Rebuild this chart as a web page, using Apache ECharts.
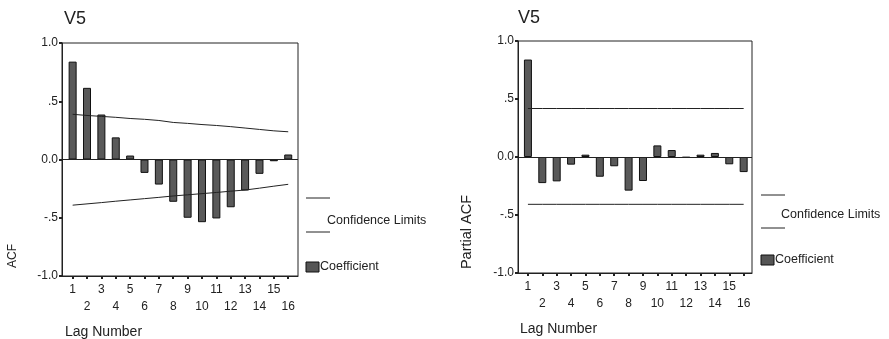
<!DOCTYPE html>
<html>
<head>
<meta charset="utf-8">
<script src="https://cdn.jsdelivr.net/npm/echarts@6/dist/echarts.min.js"></script>
<style>
  html, body { margin: 0; padding: 0; background: #fff; }
  #chart { width: 889px; height: 339px; }
</style>
</head>
<body>
<div id="chart"></div>
<script>
var lags = [1, 2, 3, 4, 5, 6, 7, 8, 9, 10, 11, 12, 13, 14, 15, 16];
var acf = [0.84, 0.615, 0.386, 0.19, 0.034, -0.115, -0.215, -0.363, -0.5, -0.538, -0.506, -0.41, -0.266, -0.123, -0.015, 0.043];
var acfUpper = [0.388, 0.378, 0.37, 0.362, 0.352, 0.345, 0.335, 0.318, 0.31, 0.3, 0.292, 0.282, 0.27, 0.258, 0.246, 0.238];
var acfLower = [-0.392, -0.381, -0.37, -0.358, -0.347, -0.336, -0.325, -0.313, -0.303, -0.293, -0.283, -0.272, -0.262, -0.246, -0.229, -0.213];
var pacf = [0.84, -0.225, -0.21, -0.066, 0.02, -0.17, -0.08, -0.29, -0.207, 0.1, 0.06, -0.005, 0.02, 0.035, -0.063, -0.13];
var pacfUpper = [0.418, 0.418, 0.418, 0.418, 0.418, 0.418, 0.418, 0.418, 0.418, 0.418, 0.418, 0.418, 0.418, 0.418, 0.418, 0.418];
var pacfLower = [-0.408, -0.408, -0.408, -0.408, -0.408, -0.408, -0.408, -0.408, -0.408, -0.408, -0.408, -0.408, -0.408, -0.408, -0.408, -0.408];
var yTickText = { '1': '1.0', '0.5': '.5', '0': '0.0', '-0.5': '-.5', '-1': '-1.0' };

var font = 'Liberation Sans';
var ink = '#222';

var pairs = function (ys) { return lags.map(function (l, i) { return [l, ys[i]]; }); };

var xAxis = function (idx, min, max) {
  return {
    type: 'value', gridIndex: idx, min: min, max: max,
    splitLine: { show: false },
    axisLine: { onZero: false, lineStyle: { color: ink } },
    axisTick: { customValues: lags, length: 3, lineStyle: { color: ink, width: 2 } },
    axisLabel: {
      customValues: lags, margin: 5, color: ink, fontFamily: font, fontSize: 12, lineHeight: 17,
      formatter: function (v) { return v % 2 ? String(v) : '\n' + v; }
    }
  };
};
var yAxis = function (idx) {
  return {
    type: 'value', gridIndex: idx, min: -1, max: 1, interval: 0.5,
    splitLine: { show: false },
    axisLine: { onZero: false, lineStyle: { color: ink } },
    axisTick: { length: 3, lineStyle: { color: ink, width: 2 } },
    axisLabel: {
      margin: 4, color: ink, fontFamily: font, fontSize: 12,
      formatter: function (v) { return yTickText[String(v)]; }
    }
  };
};
var bars = function (idx, ys) {
  return {
    type: 'bar', xAxisIndex: idx, yAxisIndex: idx, barWidth: 8,
    data: pairs(ys),
    itemStyle: { color: '#595959', borderColor: '#111', borderWidth: 1 },
    markLine: {
      silent: true, symbol: 'none', label: { show: false },
      lineStyle: { color: ink, type: 'solid', width: 1 },
      data: [{ yAxis: 0 }]
    }
  };
};
var limit = function (idx, ys) {
  return {
    type: 'line', xAxisIndex: idx, yAxisIndex: idx, data: pairs(ys),
    symbol: 'none', lineStyle: { color: ink, width: 1 }, z: 3
  };
};
var text = function (x, y, s, size) {
  return {
    type: 'text', x: x, y: y,
    style: { text: s, fill: ink, font: size + 'px "' + font + '"', verticalAlign: 'middle' }
  };
};
var vtext = function (x, y, s, size) {
  return {
    type: 'text', x: x, y: y, rotation: Math.PI / 2,
    style: { text: s, fill: ink, font: size + 'px "' + font + '"', align: 'center', verticalAlign: 'middle' }
  };
};
var legend = function (x, y1, y2, ty, tx, sy) {
  return [
    { type: 'line', shape: { x1: x, y1: y1, x2: x + 24, y2: y1 }, style: { stroke: ink, lineWidth: 1 } },
    { type: 'line', shape: { x1: x, y1: y2, x2: x + 24, y2: y2 }, style: { stroke: ink, lineWidth: 1 } },
    text(tx, ty, 'Confidence Limits', 12.5),
    { type: 'rect', shape: { x: x, y: sy - 5, width: 13, height: 10 }, style: { fill: '#555', stroke: '#111' } },
    text(x + 14, sy, 'Coefficient', 12.5)
  ];
};

var chart = echarts.init(document.getElementById('chart'));
chart.setOption({
  animation: false,
  grid: [
    { left: 62, top: 43, width: 236, height: 233, show: true, borderColor: ink, borderWidth: 1 },
    { left: 518, top: 41, width: 234, height: 232, show: true, borderColor: ink, borderWidth: 1 }
  ],
  xAxis: [xAxis(0, 0.26, 16.68), xAxis(1, 0.31, 16.58)],
  yAxis: [yAxis(0), yAxis(1)],
  series: [
    bars(0, acf), limit(0, acfUpper), limit(0, acfLower),
    bars(1, pacf), limit(1, pacfUpper), limit(1, pacfLower)
  ],
  graphic: [
    text(64, 19, 'V5', 18),
    text(518, 18, 'V5', 18),
    vtext(13, 256, 'ACF', 12),
    vtext(467, 232, 'Partial ACF', 14.5),
    text(65, 332, 'Lag Number', 14),
    text(520, 329, 'Lag Number', 14)
  ].concat(legend(306, 198, 232, 221, 327, 267), legend(761, 195, 228, 215, 781, 260))
});
</script>
</body>
</html>
